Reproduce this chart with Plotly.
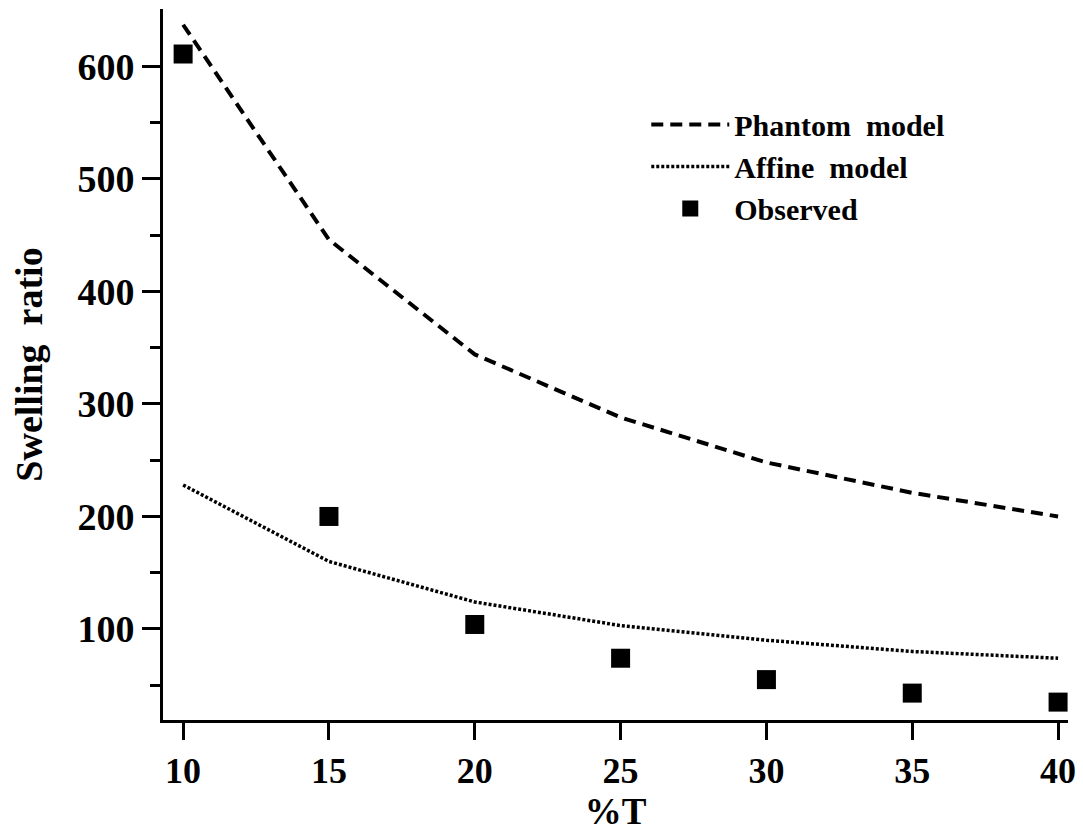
import plotly.graph_objects as go

# Data
pct_T = [10, 15, 20, 25, 30, 35, 40]
phantom_model = [637, 446, 344, 288, 248, 221, 200]
affine_model = [228, 160, 124, 103, 90, 80, 74]
observed = [611, 200, 104, 74, 55, 43, 35]

x_ticks = [10, 15, 20, 25, 30, 35, 40]
y_ticks = [100, 200, 300, 400, 500, 600]
y_minor = [50, 150, 250, 350, 450, 550]

FONT = "Liberation Serif"

fig = go.Figure()
fig.add_trace(go.Scatter(
    x=pct_T, y=phantom_model, mode="lines", name="Phantom  model",
    line=dict(color="black", width=4, dash="12px,7px"),
))
fig.add_trace(go.Scatter(
    x=pct_T, y=affine_model, mode="lines", name="Affine  model",
    line=dict(color="black", width=3.5, dash="3px,2px"),
))
fig.add_trace(go.Scatter(
    x=pct_T, y=observed, mode="markers", name="Observed",
    marker=dict(symbol="square", size=19, color="black"),
))

fig.update_layout(
    width=1083, height=832,
    margin=dict(l=163, r=15, t=9, b=112),
    paper_bgcolor="white", plot_bgcolor="white",
    font=dict(family=FONT, color="black", weight="bold"),
    legend=dict(
        x=0.534, y=0.874, xanchor="left", yanchor="top",
        font=dict(family=FONT, size=30, color="black", weight="bold"),
        bgcolor="rgba(0,0,0,0)", itemwidth=78, tracegroupgap=0,
    ),
)
fig.update_xaxes(
    range=[9.31, 40.34], showgrid=False, zeroline=False,
    showline=True, linecolor="black", linewidth=3,
    tickmode="array", tickvals=x_ticks,
    ticks="outside", ticklen=17, tickwidth=3, tickcolor="black",
    tickfont=dict(family=FONT, size=36, color="black", weight="bold"),
    title=dict(text="%T", standoff=10,
               font=dict(family=FONT, size=37, color="black", weight="bold")),
    automargin=False,
)
fig.update_yaxes(
    range=[19.1, 651], showgrid=False, zeroline=False,
    showline=True, linecolor="black", linewidth=3,
    tickmode="array", tickvals=y_ticks,
    ticks="outside", ticklen=18, tickwidth=3, tickcolor="black",
    minor=dict(tickmode="array", tickvals=y_minor, ticks="outside",
               ticklen=10, tickwidth=3, tickcolor="black"),
    tickfont=dict(family=FONT, size=38, color="black", weight="bold"),
    title=dict(text="Swelling  ratio", standoff=24,
               font=dict(family=FONT, size=38, color="black", weight="bold")),
    automargin=False,
)

fig.write_html("out.html")
